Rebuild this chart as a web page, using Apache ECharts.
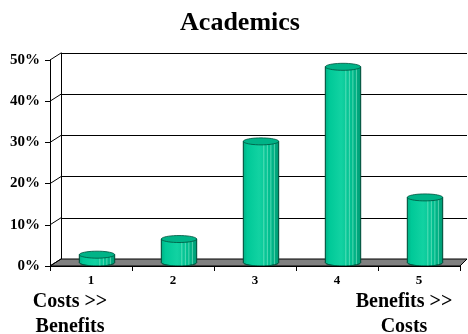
<!DOCTYPE html>
<html><head><meta charset="utf-8">
<script src="https://cdn.jsdelivr.net/npm/echarts@6/dist/echarts.min.js"></script>
<style>html,body{margin:0;padding:0;background:#fff}#c{width:468px;height:334px}</style>
</head><body><div id="c"></div>
<script>
const categories = ['1', '2', '3', '4', '5'];
const values = [1.9, 5.7, 29.4, 47.5, 15.8];
const yTicks = [0, 10, 20, 30, 40, 50];
const titleText = 'Academics';
const leftNote = 'Costs >>\nBenefits';
const rightNote = 'Benefits >>\nCosts';

const FONT = '"Liberation Serif","Times New Roman",serif';
const FRONT = {left: 50, right: 460, top: 60, bottom: 266};
const BACK = {left: 61, right: 467, top: 53, bottom: 259};
const DX = 6, DY = -3.5;

const chart = echarts.init(document.getElementById('c'), null, {renderer: 'canvas'});

function ellipsePts(cx, cy, rx, ry, a0, a1, n) {
  const pts = [];
  for (let k = 0; k <= n; k++) {
    const a = a0 + (a1 - a0) * k / n;
    pts.push([cx + rx * Math.cos(a), cy + ry * Math.sin(a)]);
  }
  return pts;
}

function renderCyl(params, api) {
  const i = api.value(0), v = api.value(1);
  const top = api.coord([i, v]);
  const base = api.coord([i, 0]);
  const band = api.size([1, 0])[0];
  const w = band * 0.43;
  const cx = top[0] + DX, yt = top[1] + DY, yb = base[1] + DY;
  const rx = w / 2, ry = 3.5;
  const x0 = cx - rx, x1 = cx + rx;
  const arc = ellipsePts(cx, yb, rx, ry, Math.PI, 0, 30).map(function (p) { return [p[0], yb + Math.abs(p[1] - yb)]; });
  const body = [[x0, yt], [x0, yb]].concat(arc).concat([[x1, yt]]);
  const children = [{
    type: 'polygon',
    shape: {points: body},
    style: {
      fill: new echarts.graphic.LinearGradient(0, 0, 1, 0, [
        {offset: 0, color: '#00b084'},
        {offset: 0.12, color: '#00c998'},
        {offset: 0.45, color: '#12d2a2'},
        {offset: 0.75, color: '#00bd8e'},
        {offset: 1, color: '#009a73'}
      ]),
      stroke: '#00533e', lineWidth: 0.8
    }
  }];
  [0.58, 0.68, 0.78, 0.88].forEach(function (f) {
    const xx = x0 + w * f;
    const dy = ry * Math.sqrt(Math.max(0, 1 - Math.pow((xx - cx) / rx, 2)));
    children.push({
      type: 'line',
      shape: {x1: xx, y1: yt + dy, x2: xx, y2: yb + dy - 0.5},
      style: {stroke: 'rgba(150,240,210,0.7)', lineWidth: 0.8}
    });
  });
  children.push({
    type: 'polygon',
    shape: {points: ellipsePts(cx, yt, rx, ry, 0, Math.PI * 2, 40)},
    style: {fill: '#00b387', stroke: '#00533e', lineWidth: 0.8}
  });
  return {type: 'group', children: children};
}

const axisFontBase = {fontFamily: FONT, fontWeight: 'bold', color: '#000'};

chart.setOption({
  animation: false,
  backgroundColor: '#fff',
  grid: [
    {left: BACK.left, top: BACK.top, width: BACK.right - BACK.left, height: BACK.bottom - BACK.top, containLabel: false},
    {left: FRONT.left, top: FRONT.top, width: FRONT.right - FRONT.left, height: FRONT.bottom - FRONT.top, containLabel: false}
  ],
  xAxis: [
    {type: 'category', gridIndex: 0, data: categories, show: false},
    {type: 'category', gridIndex: 1, data: categories, z: 5,
      axisLine: {lineStyle: {color: '#000', width: 1}},
      axisTick: {show: true, length: 5, interval: 0, lineStyle: {color: '#000'}},
      axisLabel: Object.assign({fontSize: 13, margin: 8}, axisFontBase),
      splitLine: {show: false}}
  ],
  yAxis: [
    {type: 'value', gridIndex: 0, min: 0, max: 50, interval: 10,
      axisLine: {show: true, lineStyle: {color: '#000', width: 1}},
      axisTick: {show: false}, axisLabel: {show: false},
      splitLine: {show: true, lineStyle: {color: '#000', width: 1}}},
    {type: 'value', gridIndex: 1, min: 0, max: 50, interval: 10, z: 5,
      axisLine: {show: true, lineStyle: {color: '#000', width: 1}},
      axisTick: {show: true, length: 5, lineStyle: {color: '#000'}},
      axisLabel: Object.assign({fontSize: 15, margin: 10, formatter: '{value}%'}, axisFontBase),
      splitLine: {show: false}}
  ],
  series: [{
    type: 'custom',
    xAxisIndex: 1, yAxisIndex: 1,
    z: 3,
    renderItem: renderCyl,
    data: values.map(function (v, i) { return [i, v]; })
  }]
});

const yb = function (v) { return chart.convertToPixel({yAxisIndex: 0}, v); };
const yf = function (v) { return chart.convertToPixel({yAxisIndex: 1}, v); };

const gfx = [];
gfx.push({
  type: 'polygon', z: 1,
  shape: {points: [[FRONT.left, yf(0)], [FRONT.right, yf(0)], [BACK.right, yb(0)], [BACK.left, yb(0)]]},
  style: {fill: '#808080', stroke: '#000', lineWidth: 1}
});
yTicks.forEach(function (v) {
  gfx.push({type: 'line', z: 1, shape: {x1: FRONT.left, y1: yf(v), x2: BACK.left, y2: yb(v)}, style: {stroke: '#000', lineWidth: 1}});
});
gfx.push({type: 'text', z: 10, x: 240, y: 23,
  style: {text: titleText, font: 'bold 26px ' + FONT, fill: '#000', align: 'center', verticalAlign: 'middle', textAlign: 'center', textVerticalAlign: 'middle'}});
gfx.push({type: 'text', z: 10, x: 70, y: 289,
  style: {text: leftNote, font: 'bold 20px ' + FONT, fill: '#000', lineHeight: 25, align: 'center', verticalAlign: 'top', textAlign: 'center'}});
gfx.push({type: 'text', z: 10, x: 404, y: 289,
  style: {text: rightNote, font: 'bold 20px ' + FONT, fill: '#000', lineHeight: 25, align: 'center', verticalAlign: 'top', textAlign: 'center'}});
chart.setOption({graphic: {elements: gfx}});
</script>
</body></html>
